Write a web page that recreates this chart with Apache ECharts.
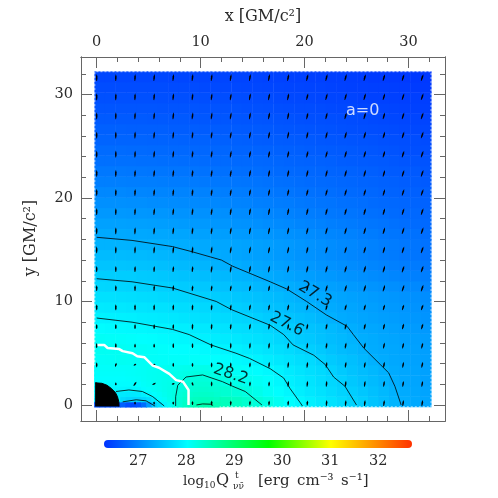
<!DOCTYPE html>
<html>
<head>
<meta charset="utf-8">
<style>
  html, body { margin: 0; padding: 0; background: #fff; }
  #main { width: 498px; height: 498px; }
</style>
<script src="https://cdn.jsdelivr.net/npm/echarts@6/dist/echarts.min.js"></script>
</head>
<body>
<div id="main"></div>
<script>
// cell centres of the emissivity map
const cellX = [0.31,1.32,2.33,3.35,4.36,5.37,6.39,7.4,8.41,9.42,10.44,11.45,12.46,13.48,14.49,15.5,16.51,17.53,18.54,19.55,20.56,21.58,22.59,23.6,24.61,25.62,26.64,27.65,28.66,29.67,30.69,31.7]
const cellY = cellX
// log10 Q per cell, bottom row first
const cellValues = [
  [26.5,26.5,26.6,26.6,26.9,27.6,27.9,28.1,28.3,28.45,28.5,28.5,28.45,28.39,28.32,28.25,28.17,28.08,28,27.93,27.87,27.81,27.75,27.69,27.63,27.58,27.5,27.43,27.37,27.31,27.27,27.24],
  [27.9,27.9,27.85,27.9,27.95,28.05,28.1,28.15,28.25,28.33,28.35,28.33,28.3,28.25,28.2,28.13,28.05,27.99,27.93,27.86,27.8,27.75,27.69,27.63,27.58,27.52,27.46,27.4,27.34,27.28,27.25,27.22],
  [28,28,27.98,28,28.02,28.07,28.1,28.13,28.2,28.25,28.25,28.22,28.19,28.15,28.1,28.06,28.01,27.94,27.87,27.82,27.77,27.71,27.66,27.6,27.53,27.47,27.42,27.36,27.31,27.26,27.23,27.2],
  [28.03,28.03,28.03,28.04,28.05,28.08,28.09,28.1,28.12,28.14,28.15,28.12,28.08,28.05,28.02,27.99,27.95,27.9,27.83,27.78,27.73,27.68,27.62,27.55,27.49,27.44,27.39,27.33,27.28,27.25,27.22,27.2],
  [28.05,28.06,28.08,28.07,28.05,28.04,28.03,28.03,28.03,28.03,28.02,28,27.98,27.96,27.93,27.9,27.85,27.8,27.76,27.72,27.68,27.61,27.55,27.5,27.45,27.39,27.33,27.29,27.26,27.23,27.21,27.19],
  [28.08,28.07,28.07,28.06,28.05,28.04,28.02,28,27.99,27.98,27.96,27.94,27.91,27.88,27.84,27.81,27.77,27.73,27.69,27.64,27.59,27.54,27.48,27.43,27.39,27.34,27.29,27.27,27.25,27.22,27.2,27.18],
  [28.05,28.04,28.03,28.02,28,27.99,27.97,27.95,27.93,27.9,27.88,27.85,27.83,27.8,27.77,27.74,27.71,27.66,27.62,27.56,27.53,27.48,27.44,27.4,27.36,27.31,27.28,27.25,27.23,27.2,27.18,27.16],
  [27.98,27.97,27.96,27.95,27.94,27.92,27.91,27.89,27.86,27.83,27.81,27.78,27.76,27.73,27.71,27.68,27.65,27.61,27.57,27.53,27.49,27.45,27.41,27.36,27.31,27.27,27.25,27.22,27.2,27.17,27.15,27.13],
  [27.9,27.89,27.88,27.87,27.85,27.84,27.82,27.8,27.78,27.75,27.73,27.7,27.68,27.65,27.63,27.6,27.56,27.53,27.5,27.46,27.43,27.38,27.33,27.28,27.26,27.23,27.21,27.18,27.16,27.13,27.11,27.09],
  [27.82,27.81,27.8,27.79,27.78,27.76,27.75,27.73,27.71,27.69,27.67,27.64,27.61,27.58,27.56,27.52,27.49,27.46,27.43,27.39,27.36,27.31,27.28,27.25,27.23,27.2,27.18,27.15,27.13,27.1,27.08,27.06],
  [27.74,27.74,27.73,27.72,27.7,27.69,27.67,27.65,27.64,27.62,27.6,27.57,27.55,27.52,27.5,27.47,27.44,27.41,27.37,27.33,27.29,27.27,27.25,27.22,27.2,27.17,27.15,27.12,27.1,27.07,27.05,27.03],
  [27.66,27.65,27.64,27.63,27.62,27.61,27.6,27.58,27.56,27.54,27.52,27.49,27.47,27.44,27.42,27.39,27.37,27.34,27.3,27.27,27.24,27.21,27.19,27.16,27.14,27.11,27.09,27.06,27.04,27.01,26.99,26.96],
  [27.58,27.58,27.57,27.57,27.55,27.54,27.52,27.5,27.48,27.46,27.44,27.41,27.39,27.36,27.34,27.31,27.28,27.25,27.22,27.19,27.17,27.14,27.12,27.09,27.07,27.04,27.02,26.99,26.97,26.94,26.92,26.9],
  [27.5,27.5,27.5,27.49,27.48,27.47,27.45,27.43,27.41,27.39,27.37,27.34,27.32,27.3,27.27,27.25,27.22,27.2,27.17,27.14,27.12,27.09,27.07,27.04,27.02,26.99,26.97,26.94,26.92,26.89,26.87,26.85],
  [27.42,27.42,27.42,27.41,27.41,27.39,27.38,27.36,27.34,27.32,27.29,27.28,27.26,27.23,27.21,27.19,27.17,27.14,27.12,27.09,27.07,27.04,27.02,26.99,26.97,26.94,26.92,26.89,26.87,26.84,26.82,26.8],
  [27.35,27.35,27.35,27.34,27.33,27.33,27.32,27.31,27.3,27.28,27.27,27.25,27.24,27.22,27.21,27.19,27.17,27.15,27.13,27.1,27.08,27.05,27.03,27,26.98,26.95,26.93,26.9,26.88,26.85,26.82,26.8],
  [27.27,27.27,27.27,27.26,27.26,27.25,27.25,27.24,27.23,27.21,27.2,27.18,27.17,27.15,27.14,27.12,27.1,27.08,27.06,27.04,27.02,26.99,26.97,26.95,26.93,26.9,26.88,26.85,26.83,26.81,26.79,26.76],
  [27.2,27.2,27.2,27.19,27.19,27.18,27.17,27.16,27.15,27.14,27.13,27.11,27.1,27.08,27.07,27.05,27.03,27.01,26.99,26.97,26.95,26.93,26.91,26.89,26.87,26.85,26.83,26.81,26.79,26.76,26.74,26.72],
  [27.12,27.12,27.12,27.11,27.11,27.1,27.1,27.09,27.08,27.07,27.06,27.05,27.04,27.02,27.01,26.99,26.97,26.95,26.93,26.91,26.89,26.87,26.85,26.83,26.82,26.8,26.78,26.76,26.74,26.72,26.71,26.69],
  [27.05,27.05,27.05,27.04,27.04,27.03,27.03,27.02,27.01,27,26.99,26.98,26.97,26.95,26.94,26.92,26.91,26.89,26.88,26.86,26.84,26.82,26.81,26.79,26.78,26.76,26.74,26.72,26.71,26.69,26.68,26.66],
  [26.98,26.98,26.98,26.97,26.97,26.96,26.96,26.95,26.95,26.94,26.93,26.92,26.9,26.89,26.88,26.86,26.85,26.83,26.82,26.8,26.79,26.77,26.76,26.74,26.73,26.71,26.7,26.68,26.67,26.65,26.64,26.63],
  [26.91,26.91,26.91,26.9,26.9,26.9,26.89,26.88,26.88,26.87,26.86,26.85,26.84,26.83,26.82,26.81,26.8,26.78,26.77,26.75,26.74,26.73,26.72,26.7,26.69,26.68,26.67,26.65,26.64,26.62,26.61,26.59],
  [26.85,26.85,26.85,26.84,26.84,26.83,26.83,26.82,26.82,26.81,26.8,26.79,26.78,26.77,26.76,26.75,26.74,26.73,26.72,26.71,26.7,26.69,26.68,26.67,26.66,26.64,26.63,26.61,26.6,26.59,26.58,26.56],
  [26.78,26.78,26.78,26.78,26.77,26.77,26.76,26.76,26.75,26.75,26.74,26.73,26.73,26.72,26.72,26.71,26.7,26.69,26.68,26.67,26.66,26.65,26.64,26.62,26.61,26.6,26.59,26.58,26.57,26.55,26.54,26.53],
  [26.74,26.74,26.74,26.73,26.73,26.72,26.72,26.71,26.71,26.7,26.7,26.69,26.69,26.68,26.68,26.67,26.66,26.65,26.64,26.63,26.62,26.61,26.6,26.59,26.58,26.57,26.56,26.54,26.53,26.51,26.5,26.49],
  [26.68,26.68,26.68,26.68,26.68,26.67,26.67,26.67,26.66,26.66,26.66,26.65,26.64,26.64,26.63,26.62,26.61,26.61,26.6,26.59,26.58,26.57,26.56,26.55,26.54,26.53,26.52,26.51,26.5,26.49,26.48,26.46],
  [26.64,26.64,26.64,26.63,26.63,26.63,26.63,26.62,26.62,26.62,26.61,26.61,26.6,26.6,26.59,26.59,26.58,26.57,26.56,26.55,26.54,26.53,26.52,26.51,26.5,26.49,26.48,26.47,26.46,26.45,26.44,26.43],
  [26.59,26.59,26.59,26.59,26.59,26.58,26.58,26.58,26.58,26.57,26.57,26.56,26.56,26.56,26.55,26.55,26.54,26.53,26.52,26.51,26.5,26.5,26.49,26.48,26.47,26.46,26.45,26.44,26.43,26.42,26.41,26.4],
  [26.55,26.55,26.55,26.55,26.55,26.55,26.54,26.54,26.54,26.54,26.53,26.53,26.52,26.52,26.51,26.51,26.5,26.49,26.48,26.47,26.47,26.46,26.45,26.44,26.43,26.42,26.41,26.41,26.4,26.39,26.38,26.37],
  [26.51,26.51,26.51,26.51,26.51,26.51,26.5,26.5,26.5,26.5,26.49,26.49,26.48,26.48,26.47,26.47,26.46,26.45,26.44,26.44,26.43,26.42,26.41,26.41,26.4,26.39,26.38,26.38,26.37,26.36,26.36,26.35],
  [26.47,26.47,26.47,26.47,26.47,26.47,26.47,26.46,26.46,26.46,26.45,26.45,26.44,26.44,26.43,26.43,26.42,26.42,26.41,26.41,26.4,26.4,26.39,26.38,26.37,26.37,26.36,26.36,26.35,26.34,26.33,26.32],
  [26.43,26.43,26.43,26.43,26.43,26.43,26.43,26.42,26.42,26.42,26.41,26.41,26.41,26.4,26.4,26.4,26.39,26.39,26.38,26.38,26.37,26.37,26.36,26.36,26.35,26.34,26.33,26.33,26.32,26.31,26.3,26.3]
]

// finer cells around the hole and the inner lobes
const fineX = [0.05,0.55,1.05,1.55,2.05,2.55,3.05,3.55,4.05,4.55,5.05,5.55,6.05,6.55,7.05,7.55,8.05,8.55,9.05,9.55,10.05,10.55,11.05,11.55]
const fineY = [0.05,0.55,1.05,1.55,2.05,2.55,3.05,3.55]
const fineValues = [
  [26.5,26.5,26.5,26.5,26.5,26.65,26.5,26.45,26.55,26.75,27.15,27.55,27.75,27.92,28.05,28.18,28.28,28.37,28.44,28.49,28.52,28.53,28.52,28.48],
  [27.9,27.9,27.9,27.9,27.9,27.7,27.65,27.63,27.63,27.66,27.72,27.85,27.98,28.05,28.12,28.2,28.28,28.34,28.39,28.42,28.44,28.44,28.43,28.4],
  [27.9,27.9,27.9,27.9,27.85,27.82,27.8,27.8,27.82,27.87,27.94,28,28.05,28.1,28.15,28.19,28.25,28.3,28.33,28.35,28.36,28.36,28.35,28.32],
  [27.95,27.95,27.95,27.95,27.95,27.93,27.92,27.93,27.95,27.98,28.02,28.06,28.09,28.12,28.15,28.18,28.22,28.26,28.29,28.31,28.32,28.32,28.31,28.29],
  [27.98,27.98,27.98,27.98,27.98,27.98,27.98,27.99,28,28.03,28.06,28.08,28.1,28.12,28.14,28.16,28.19,28.23,28.26,28.27,28.28,28.28,28.27,28.25],
  [28,28,28,28,28,28,28.01,28.02,28.03,28.05,28.07,28.09,28.1,28.12,28.13,28.15,28.17,28.2,28.22,28.23,28.24,28.24,28.22,28.2],
  [28.02,28.02,28.02,28.02,28.02,28.02,28.03,28.04,28.05,28.06,28.08,28.09,28.1,28.11,28.12,28.13,28.14,28.16,28.18,28.19,28.19,28.19,28.17,28.15],
  [28.03,28.03,28.03,28.03,28.03,28.03,28.04,28.04,28.05,28.06,28.08,28.08,28.09,28.09,28.1,28.1,28.11,28.12,28.13,28.14,28.14,28.14,28.12,28.1]
]

// velocity ticks: tilt from vertical in degrees and length
const arrowX = [0,1.84,3.69,5.53,7.37,9.22,11.06,12.9,14.75,16.59,18.43,20.27,22.12,23.96,25.8,27.65,29.49,31.33]
const arrowY = [0.19,2.04,3.89,5.74,7.59,9.44,11.29,13.14,14.99,16.84,18.69,20.54,22.39,24.24,26.09,27.94,29.79,31.64]
const arrowTilt = [
  [0,0,0,0,0,0,2,2,3,3,4,4,5,6,6,7,8,8],
  [0,0,35,60,75,-15,0,1,3,3,5,5,6,7,8,8,9,10],
  [0,15,60,70,0,0,0,1,3,5,6,7,8,9,10,10,11,12],
  [0,0,0,0,0,0,0,2,4,6,7,8,9,10,11,12,13,14],
  [0,0,0,0,2,3,4,6,8,9,10,11,12,13,14,15,16,17],
  [0,0,0,2,3,5,6,8,10,11,12,13,14,15,16,17,18,19],
  [0,0,1,3,4,6,7,9,10,11,12,13,14,15,16,17,18,19],
  [0,0,2,3,5,6,8,9,10,11,12,13,14,15,16,17,18,19],
  [0,1,2,4,5,6,8,9,10,11,12,13,14,15,16,17,18,19],
  [0,1,3,4,6,7,8,9,10,11,12,13,14,15,16,17,18,19],
  [0,1,3,5,6,7,8,9,10,11,12,13,14,15,16,17,18,19],
  [0,1,3,5,6,7,8,9,10,11,12,13,14,15,16,17,18,19],
  [0,1,3,5,6,7,8,9,10,11,12,13,14,15,16,17,18,19],
  [0,1,3,5,6,7,8,9,10,11,12,13,14,15,16,17,18,19],
  [0,1,3,5,6,7,8,9,10,11,12,13,14,15,16,17,18,19],
  [0,1,3,5,6,7,8,9,10,11,12,13,14,15,16,17,18,19],
  [0,1,3,5,6,7,8,9,10,11,12,13,14,15,16,17,18,19],
  [0,1,3,5,6,7,8,9,10,11,12,13,14,15,16,17,18,19]
]
const arrowLength = [
  [3,3,3,3,3,4,5,5,5,5,5,5,6,6,6,6,6,6],
  [3,3,5,4,3,4,5,5,5,5,6,6,6,6,6,6,6,6],
  [5,4,3,3,4,4,5,5,5,6,6,6,6,6,6,6,6,6],
  [5,5,4,4,5,5,5,6,6,6,6,6,6,6,6,6,6,6],
  [5,5,5,5,5,6,6,6,6,6,6,6,6,6,6,6,6,6],
  [6,6,6,6,6,6,6,6,6,6,6,6,6,6,6,6,6,6],
  [6,6,6,6,6,6,6,6,6,6,6,6,7,7,7,7,7,7],
  [6,6,6,6,6,6,7,7,7,7,7,7,7,7,7,7,7,7],
  [7,7,7,7,7,7,7,7,7,7,7,7,7,7,7,7,7,7],
  [7,7,7,7,7,7,7,7,7,7,7,7,7,7,7,7,7,7],
  [7,7,7,7,7,7,7,7,7,7,7,7,7,7,7,7,7,7],
  [7,7,7,7,7,7,7,7,7,7,7,7,7,7,7,7,7,7],
  [7,7,7,7,7,7,7,7,7,7,7,7,7,7,7,7,7,7],
  [7,7,7,7,7,7,7,7,7,7,7,7,7,7,7,7,7,7],
  [7,7,7,7,7,7,7,7,7,7,7,7,7,7,7,7,7,7],
  [7,7,7,7,7,7,7,7,7,7,7,7,7,7,7,7,7,7],
  [7,7,7,7,7,7,7,7,7,7,7,7,7,7,7,7,7,7],
  [7,7,7,7,7,7,7,7,7,7,7,7,7,7,7,7,7,7]
]

// contour lines as [x, y]
const contour273 = [[0,16.2],[3.4,15.9],[7.3,15.3],[9.2,14.8],[12,14],[13.1,13.4],[16.7,11.9],[18.3,11.2],[20.2,10],[22.1,8.7],[24.1,7.6],[24.7,6.8],[25.7,5.5],[27.3,3.9],[28.1,3.1],[28.7,1.8],[29.3,0]]
const contour276 = [[0,12.2],[3.4,11.9],[7.3,11.3],[11.5,10],[13,9.2],[16.7,7.7],[18,6.8],[18.9,5.8],[20.9,4.8],[22,3.9],[22.8,2.7],[23.9,1.8],[25,0]]
const contour279 = [[0,8.4],[3.4,8],[7.3,7.3],[8.9,6.8],[11,5.8],[13.4,5],[14.7,4.5],[16.7,3.5],[18,2.6],[18.6,1.6],[19.6,0.2],[19.8,-0.1]]
const contour282 = [[7.6,-0.1],[7.6,0.8],[7.8,1.9],[8.6,2.7],[10.2,2.9],[12.1,2.25],[13.1,1.8],[14.3,1.3],[15.9,0]]
const contour285 = [[9.6,0],[10.2,0.1],[11,0.07],[11.2,-0.05]]
const lobeOuter = [[1.85,1.3],[3.1,1.45],[4.4,1.3],[5.4,0.8],[6.5,-0.1]]
const lobeInner = [[2.5,0.3],[3.8,0.5],[4.75,0.4],[5.6,-0.1]]
const whiteContour = [[0.08,5.8],[0.72,5.8],[1.05,5.5],[2.17,5.4],[2.5,5.2],[3.45,5],[3.9,4.7],[4.6,4.6],[5.4,3.8],[6,3.6],[6.99,3],[7.65,2.4],[8.3,2.25],[8.84,1.45],[8.84,0]]
const holeEdge = [[-0.15,2.14],[0.5,2.09],[1,1.9],[1.4,1.6],[1.8,1.2],[2,0.8],[2.13,0.3],[2.15,-0.15]]
const mapEdge = [[-0.18,-0.18],[32.18,-0.18],[32.18,32.2],[-0.18,32.2],[-0.18,-0.18]]

const minorTicks = [0,2,4,6,8,10,12,14,16,18,20,22,24,26,28,30,32]
const majorTicks = [0,10,20,30]
const barTicks = [27,28,29,30,31,32]
const barEnds = [26.37,32.62]
const colorValues = [26.25,28,29.7,31,32.7]
const colorNames = ['#0032ff','#00ffff','#00ff00','#ffff00','#ff3200']
const plotLabels = [
  { x: 21, y: 10.7, text: '27.3', rotate: -30, color: '#000' },
  { x: 18.3, y: 7.8, text: '27.6', rotate: -27, color: '#000' },
  { x: 12.9, y: 2.95, text: '28.2', rotate: -18, color: '#000' },
  { x: 25.6, y: 28.4, text: 'a=0', rotate: 0, color: '#fff' }
]

const serif = '"DejaVu Serif", serif'
const sans = '"DejaVu Sans", sans-serif'
const frameColor = '#666'
const textColor = '#2a2a2a'

function colorOf(v) {
  const t = (v - colorValues[0]) / (colorValues[colorValues.length - 1] - colorValues[0])
  const i = colorValues.findIndex((c, n) => n > 0 && v <= c)
  const k = i < 1 ? 1 : i
  const f = (v - colorValues[k - 1]) / (colorValues[k] - colorValues[k - 1])
  return t < 0 ? colorNames[0] : echarts.color.lerp(f, [colorNames[k - 1], colorNames[k]])
}

function toCells(xs, ys, rows) {
  const out = []
  rows.forEach((row, j) => row.forEach((v, i) => out.push([xs[i], ys[j], v])))
  return out
}

function contourLine(points, color, width) {
  return {
    type: 'line',
    data: points,
    showSymbol: false,
    silent: true,
    z: 4,
    lineStyle: { color: color, width: width }
  }
}

// frame axes: one set carries the short ticks, the overlaid set the long ones with labels
function frameAxis(dim, position, grid, ticks, len, labels, min, max) {
  return {
    type: 'value',
    gridIndex: grid,
    position: position,
    min: min,
    max: max,
    splitLine: { show: false },
    axisLine: { show: true, onZero: false, lineStyle: { color: frameColor, width: 1 } },
    axisTick: { show: true, inside: true, length: len, customValues: ticks, lineStyle: { color: frameColor, width: 1 } },
    axisLabel: labels
      ? { show: true, customValues: labels, fontFamily: serif, fontSize: 14.5, color: textColor, margin: dim === 'x' ? 7 : 8 }
      : { show: false }
  }
}

const xMin = -1.51, xMax = 33.52, yMin = -1.55, yMax = 33.62
const arrowData = []
arrowTilt.forEach((row, j) => row.forEach((tilt, i) => arrowData.push([arrowX[i], arrowY[j], tilt, arrowLength[j][i]])))

const myChart = echarts.init(document.getElementById('main'), null, { renderer: 'canvas' })
var option = {
  animation: false,
  backgroundColor: '#fff',
  grid: [
    { left: 81, top: 57, width: 364, height: 364 },
    { left: 81, top: 57, width: 364, height: 364 },
    { left: 108, top: 440, width: 300, height: 8 }
  ],
  xAxis: [
    frameAxis('x', 'top', 0, minorTicks, 5, null, xMin, xMax),
    frameAxis('x', 'bottom', 0, minorTicks, 5, null, xMin, xMax),
    frameAxis('x', 'top', 1, majorTicks, 11, majorTicks, xMin, xMax),
    frameAxis('x', 'bottom', 1, majorTicks, 11, null, xMin, xMax),
    {
      type: 'value',
      gridIndex: 2,
      min: barEnds[0],
      max: barEnds[1],
      splitLine: { show: false },
      axisLine: { show: false },
      axisTick: { show: false },
      axisLabel: { customValues: barTicks, fontFamily: serif, fontSize: 14.5, color: textColor, margin: 6, hideOverlap: false }
    }
  ],
  yAxis: [
    frameAxis('y', 'left', 0, minorTicks, 5, null, yMin, yMax),
    frameAxis('y', 'right', 0, minorTicks, 5, null, yMin, yMax),
    frameAxis('y', 'left', 1, majorTicks, 11, majorTicks, yMin, yMax),
    frameAxis('y', 'right', 1, majorTicks, 11, null, yMin, yMax),
    { type: 'value', gridIndex: 2, show: false, min: -1, max: 1, splitLine: { show: false } }
  ],
  series: [
    {
      type: 'scatter',
      data: toCells(cellX, cellY, cellValues),
      symbol: 'rect',
      symbolSize: 11,
      progressive: 0,
      silent: true,
      z: 1,
      itemStyle: { color: (p) => colorOf(p.value[2]), opacity: 1 }
    },
    {
      type: 'scatter',
      data: toCells(fineX, fineY, fineValues),
      symbol: 'rect',
      symbolSize: 6,
      progressive: 0,
      silent: true,
      z: 2,
      itemStyle: { color: (p) => colorOf(p.value[2]), opacity: 1 }
    },
    {
      type: 'line',
      data: mapEdge,
      showSymbol: false,
      silent: true,
      z: 2,
      lineStyle: { color: 'rgba(255,255,255,0.7)', width: 1, type: [2, 2] }
    },
    {
      type: 'scatter',
      data: arrowData,
      symbol: 'path://M0,-10 L1,-3 L1,3 L0.4,10 L-0.4,10 L-1,3 L-1,-3 Z',
      symbolSize: (v) => [1.5, v[3]],
      symbolRotate: (v) => -v[2],
      progressive: 0,
      silent: true,
      z: 3,
      itemStyle: { color: '#000', opacity: 1 }
    },
    contourLine(contour273, '#000', 0.8),
    contourLine(contour276, '#000', 0.8),
    contourLine(contour279, '#000', 0.8),
    contourLine(contour282, '#000', 0.8),
    contourLine(contour285, '#000', 0.8),
    contourLine(lobeOuter, '#000', 0.8),
    contourLine(lobeInner, '#000', 0.8),
    contourLine(whiteContour, '#fff', 2.5),
    {
      type: 'line',
      data: holeEdge,
      showSymbol: false,
      silent: true,
      z: 5,
      lineStyle: { color: '#000', width: 1 },
      itemStyle: { color: '#000' },
      areaStyle: { color: '#000', opacity: 1, origin: -0.15 }
    },
    {
      type: 'scatter',
      data: plotLabels.map((d) => ({
        value: [d.x, d.y],
        label: { show: true, position: 'inside', formatter: d.text, rotate: d.rotate, color: d.color, fontFamily: sans, fontSize: 16 }
      })),
      symbolSize: 1,
      silent: true,
      z: 6,
      itemStyle: { color: 'transparent' }
    },
    {
      type: 'line',
      xAxisIndex: 4,
      yAxisIndex: 4,
      data: [[barEnds[0], 0], [barEnds[1], 0]],
      showSymbol: false,
      silent: true,
      lineStyle: {
        width: 8,
        cap: 'round',
        color: new echarts.graphic.LinearGradient(0, 0, 1, 0, colorValues.map((v, i) => ({
          offset: (v - colorValues[0]) / (colorValues[colorValues.length - 1] - colorValues[0]),
          color: colorNames[i]
        })), false)
      }
    }
  ],
  graphic: [
    { type: 'text', x: 263, y: 17, style: { text: 'x [GM/c²]', font: '16px ' + serif, fill: textColor, align: 'center', verticalAlign: 'middle' } },
    { type: 'text', x: 31, y: 238, rotation: Math.PI / 2, style: { text: 'y [GM/c²]', font: '16px ' + serif, fill: textColor, align: 'center', verticalAlign: 'middle' } },
    { type: 'text', x: 183, y: 481, style: { text: 'log', font: '13.5px ' + serif, fill: textColor, align: 'left', verticalAlign: 'middle' } },
    { type: 'text', x: 204, y: 486, style: { text: '10', font: '9px ' + serif, fill: textColor, align: 'left', verticalAlign: 'middle' } },
    { type: 'text', x: 216, y: 481, style: { text: 'Q', font: '16px ' + serif, fill: textColor, align: 'left', verticalAlign: 'middle' } },
    { type: 'text', x: 235, y: 476, style: { text: 't', font: '9px ' + serif, fill: textColor, align: 'left', verticalAlign: 'middle' } },
    { type: 'text', x: 233, y: 487, style: { text: 'νν̄', font: '9px ' + serif, fill: textColor, align: 'left', verticalAlign: 'middle' } },
    { type: 'text', x: 258, y: 481, style: { text: '[erg\u2002cm⁻³\u2002s⁻¹]', font: '15px ' + serif, fill: textColor, align: 'left', verticalAlign: 'middle' } }
  ]
}
option && myChart.setOption(option)
</script>
</body>
</html>
